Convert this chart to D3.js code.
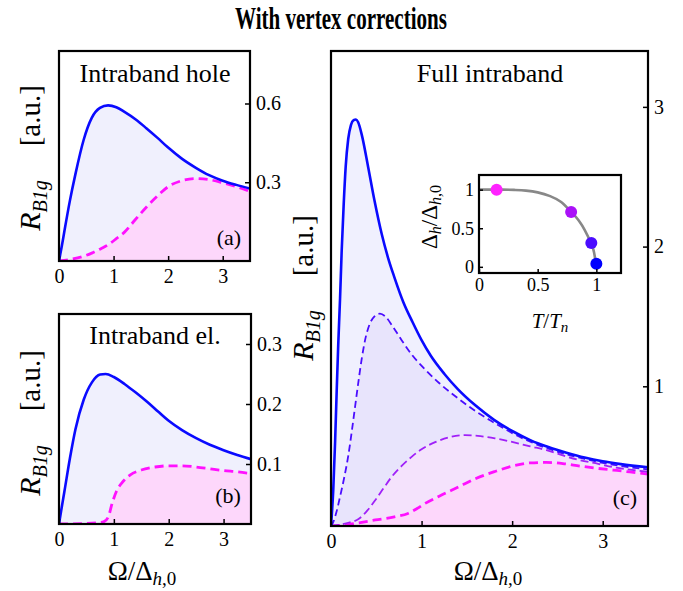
<!DOCTYPE html>
<html><head><meta charset="utf-8">
<script src="https://cdn.jsdelivr.net/npm/d3@7"></script>
<style>
body{margin:0;background:#fff}
svg{display:block}
text{font-family:"Liberation Serif","Times New Roman",serif;fill:#000}
</style>
</head><body>
<svg id="chart" width="683" height="591"></svg>
<script>
// ---------------- data ----------------
const omegaTicks = [0, 1, 2, 3];
const yTicksHole = [0.3, 0.6];
const yTicksEl = [0.1, 0.2, 0.3];
const yTicksFull = [1, 2, 3];
const insetTicks = [0, 0.5, 1];

// (a) Intraband hole: [Omega/Delta_h0, R_B1g]
const holeTn = [[0,0],[0.05,0.055],[0.1,0.115],[0.2,0.23],[0.3,0.33],[0.45,0.46],[0.6,0.545],[0.75,0.583],[0.9,0.593],[1.05,0.586],[1.2,0.568],[1.4,0.54],[1.6,0.506],[1.8,0.47],[2.0,0.432],[2.25,0.39],[2.5,0.356],[2.75,0.327],[3.0,0.306],[3.25,0.29],[3.5,0.276]];
const holeLowT = [[0,0],[0.2,0.006],[0.45,0.018],[0.6,0.03],[0.75,0.045],[0.9,0.062],[1.05,0.085],[1.2,0.11],[1.4,0.158],[1.6,0.205],[1.8,0.247],[2.0,0.283],[2.25,0.306],[2.5,0.314],[2.75,0.31],[3.0,0.298],[3.25,0.283],[3.5,0.265]];

// (b) Intraband el.
const elTn = [[0,0],[0.05,0.028],[0.1,0.055],[0.2,0.11],[0.3,0.158],[0.45,0.207],[0.6,0.236],[0.75,0.249],[0.85,0.25],[1.0,0.245],[1.2,0.233],[1.4,0.219],[1.6,0.204],[1.8,0.188],[2.0,0.172],[2.25,0.156],[2.5,0.143],[2.75,0.132],[3.0,0.123],[3.25,0.115],[3.5,0.108]];
const elLowT = [[0,0],[0.4,0.0005],[0.7,0.002],[0.82,0.004],[0.9,0.012],[0.97,0.035],[1.05,0.055],[1.15,0.069],[1.3,0.082],[1.5,0.09],[1.75,0.095],[2.0,0.097],[2.25,0.097],[2.5,0.095],[2.75,0.092],[3.0,0.089],[3.25,0.087],[3.5,0.084]];

// (c) Full intraband, four temperatures
const fullT100 = [[0,0],[0.025,0.26],[0.045,0.6],[0.063,0.97],[0.08,1.3],[0.1,1.63],[0.118,1.97],[0.14,2.3],[0.162,2.57],[0.19,2.77],[0.22,2.87],[0.25,2.905],[0.276,2.91],[0.3,2.89],[0.34,2.8],[0.41,2.57],[0.48,2.33],[0.56,2.09],[0.63,1.92],[0.7,1.78],[0.8,1.6],[0.9,1.46],[1.0,1.33],[1.1,1.22],[1.25,1.09],[1.4,0.98],[1.6,0.86],[1.8,0.76],[2.0,0.68],[2.2,0.615],[2.4,0.565],[2.6,0.525],[2.8,0.49],[3.0,0.463],[3.2,0.443],[3.5,0.42]];
const fullT096 = [[0,0],[0.02,0.02],[0.06,0.1],[0.1,0.21],[0.15,0.36],[0.19,0.5],[0.23,0.68],[0.265,0.85],[0.3,1.02],[0.34,1.2],[0.376,1.33],[0.43,1.45],[0.48,1.5],[0.54,1.52],[0.6,1.5],[0.68,1.43],[0.78,1.33],[0.9,1.22],[1.04,1.12],[1.2,1.02],[1.41,0.91],[1.6,0.82],[1.8,0.74],[2.0,0.665],[2.2,0.603],[2.4,0.553],[2.6,0.513],[2.8,0.48],[3.0,0.452],[3.2,0.43],[3.5,0.405]];
const fullT078 = [[0,0],[0.1,0.01],[0.2,0.025],[0.3,0.048],[0.4,0.11],[0.49,0.186],[0.58,0.27],[0.67,0.352],[0.78,0.43],[0.89,0.495],[1.0,0.55],[1.15,0.6],[1.3,0.635],[1.48,0.65],[1.65,0.643],[1.81,0.628],[2.01,0.6],[2.2,0.57],[2.38,0.543],[2.56,0.505],[2.75,0.471],[2.95,0.445],[3.12,0.42],[3.3,0.403],[3.5,0.388]];
const fullT015 = [[0,0],[0.2,0.012],[0.49,0.043],[0.7,0.065],[0.85,0.09],[0.95,0.125],[1.04,0.162],[1.2,0.215],[1.41,0.28],[1.6,0.34],[1.81,0.39],[2.01,0.43],[2.2,0.452],[2.38,0.455],[2.56,0.447],[2.75,0.429],[2.95,0.412],[3.12,0.40],[3.3,0.387],[3.5,0.371]];

// inset: gap vs temperature
const gapT     = [0, 0.1, 0.2, 0.3, 0.4, 0.5, 0.6, 0.7, 0.78, 0.85, 0.9, 0.95, 0.98, 1.0];
const gapDelta = [1, 1, 1, 0.997, 0.988, 0.965, 0.92, 0.84, 0.72, 0.6, 0.48, 0.32, 0.19, 0.0];
const dotT     = [0.15, 0.785, 0.957, 1.0];
const dotDelta = [1.0, 0.71, 0.31, 0.04];
const dotColor = ["#ff22ff", "#aa11f8", "#4a0cff", "#0000ff"];

// ---------------- drawing ----------------
const svg = d3.select("#chart");
const FONT = '"Liberation Serif","Times New Roman",serif';

svg.append("text").attr("x", 341).attr("y", 29).attr("text-anchor", "middle")
  .attr("font-size", 32).attr("font-weight", "bold")
  .attr("textLength", 212).attr("lengthAdjust", "spacingAndGlyphs")
  .text("With vertex corrections");

function panel(box, yMax, yTicks, layers, title, tag, tagPos) {
  const x = d3.scaleLinear().domain([0, 3.5]).range([box.x0, box.x1]);
  const y = d3.scaleLinear().domain([0, yMax]).range([box.y1, box.y0]);
  const id = "clip" + tag.replace(/[()]/g, "");
  svg.append("clipPath").attr("id", id).append("rect")
    .attr("x", box.x0).attr("y", box.y0).attr("width", box.x1 - box.x0).attr("height", box.y1 - box.y0);
  const g = svg.append("g").attr("clip-path", `url(#${id})`);
  const area = d3.area().x(d => x(d[0])).y0(y(0)).y1(d => y(d[1])).curve(d3.curveMonotoneX);
  const line = d3.line().x(d => x(d[0])).y(d => y(d[1])).curve(d3.curveMonotoneX);
  layers.forEach(L => g.append("path").datum(L.data).attr("d", area).attr("fill", L.fill));
  layers.slice().reverse().forEach(L => g.append("path").datum(L.data).attr("d", line)
    .attr("fill", "none").attr("stroke", L.stroke).attr("stroke-width", L.w)
    .attr("stroke-dasharray", L.dash || null));

  const ya = svg.append("g").attr("transform", `translate(${box.x1},0)`)
    .call(d3.axisRight(y).tickValues(yTicks).tickSize(-5).tickPadding(6).tickFormat(d => String(d)));
  const xa = svg.append("g").attr("transform", `translate(0,${box.y1})`)
    .call(d3.axisBottom(x).tickValues(omegaTicks).tickSize(-5).tickPadding(8).tickFormat(d => String(d)));
  [ya, xa].forEach(a => {
    a.attr("font-family", FONT).attr("font-size", 20);
    a.select(".domain").remove();
    a.selectAll(".tick line").attr("stroke", "#000").attr("stroke-width", 1.5);
  });
  svg.append("rect").attr("x", box.x0).attr("y", box.y0).attr("width", box.x1 - box.x0)
    .attr("height", box.y1 - box.y0).attr("fill", "none").attr("stroke", "#000").attr("stroke-width", 2.2);
  svg.append("text").attr("x", title.x).attr("y", title.y).attr("text-anchor", "middle")
    .attr("font-size", 26).text(title.t);
  svg.append("text").attr("x", tagPos.x).attr("y", tagPos.y).attr("text-anchor", "middle")
    .attr("font-size", 22).text(tag);
}

const boxA = {x0: 59, x1: 250, y0: 51, y1: 261};
const boxB = {x0: 59, x1: 251, y0: 314, y1: 524};
const boxC = {x0: 331, x1: 648, y0: 51, y1: 526};

const LAV = "#f0f0fd", PINK = "#fdd7fb";
panel(boxA, 0.8, yTicksHole, [
  {data: holeTn, fill: LAV, stroke: "#0a0aff", w: 2.6},
  {data: holeLowT, fill: PINK, stroke: "#ff11ff", w: 2.8, dash: "9,5"}
], {x: 155, y: 82, t: "Intraband hole"}, "(a)", {x: 229, y: 245});

panel(boxB, 0.35, yTicksEl, [
  {data: elTn, fill: LAV, stroke: "#0a0aff", w: 2.6},
  {data: elLowT, fill: PINK, stroke: "#ff11ff", w: 2.8, dash: "9,5"}
], {x: 155, y: 344, t: "Intraband el."}, "(b)", {x: 228, y: 503});

panel(boxC, 3.4, yTicksFull, [
  {data: fullT100, fill: "#f0f0fe", stroke: "#0a0aff", w: 2.6},
  {data: fullT096, fill: "#e8e4fc", stroke: "#4a0cff", w: 1.8, dash: "7,4"},
  {data: fullT078, fill: "#f4e2fc", stroke: "#a020f8", w: 1.8, dash: "8,4"},
  {data: fullT015, fill: PINK, stroke: "#ff11ff", w: 2.8, dash: "9,5"}
], {x: 490, y: 82, t: "Full intraband"}, "(c)", {x: 625, y: 505});

// axis titles
function yTitle(cx, cy) {
  const t = svg.append("text").attr("transform", `translate(${cx},${cy}) rotate(-90)`)
    .attr("text-anchor", "middle").attr("font-size", 30);
  t.append("tspan").attr("font-style", "italic").text("R");
  t.append("tspan").attr("font-style", "italic").attr("font-size", 20).attr("dy", 7).text("B1g");
  t.append("tspan").attr("font-size", 29).attr("dy", -7).attr("dx", 34).text("[a.u.]");
}
yTitle(40, 158);
yTitle(40, 423);
yTitle(313, 288);

function xTitle(cx, by) {
  const t = svg.append("text").attr("x", cx).attr("y", by).attr("text-anchor", "middle").attr("font-size", 27);
  t.append("tspan").text("Ω/Δ");
  const s = t.append("tspan").attr("font-size", 19).attr("dy", 5);
  s.append("tspan").attr("font-style", "italic").text("h");
  s.append("tspan").text(",0");
}
xTitle(142, 580);
xTitle(488, 580);

// ---------------- inset ----------------
const ib = {x0: 479, x1: 621, y0: 175, y1: 273};
const ix = d3.scaleLinear().domain([0, 1.21]).range([ib.x0, ib.x1]);
const iy = d3.scaleLinear().domain([-0.08, 1.19]).range([ib.y1, ib.y0]);
svg.append("rect").attr("x", ib.x0).attr("y", ib.y0).attr("width", ib.x1 - ib.x0)
  .attr("height", ib.y1 - ib.y0).attr("fill", "#fff");
svg.append("path").datum(d3.zip(gapT, gapDelta))
  .attr("d", d3.line().x(d => ix(d[0])).y(d => iy(d[1])).curve(d3.curveMonotoneX))
  .attr("fill", "none").attr("stroke", "#888").attr("stroke-width", 2.6);
svg.selectAll(".dot").data(d3.zip(dotT, dotDelta, dotColor)).enter().append("circle")
  .attr("cx", d => ix(d[0])).attr("cy", d => iy(d[1])).attr("r", 6).attr("fill", d => d[2]);
const ixa = svg.append("g").attr("transform", `translate(0,${ib.y1})`)
  .call(d3.axisBottom(ix).tickValues(insetTicks).tickSize(-4).tickPadding(5).tickFormat(d => String(d)));
const iya = svg.append("g").attr("transform", `translate(${ib.x0},0)`)
  .call(d3.axisLeft(iy).tickValues(insetTicks).tickSize(-4).tickPadding(5).tickFormat(d => String(d)));
[ixa, iya].forEach(a => {
  a.attr("font-family", FONT).attr("font-size", 18);
  a.select(".domain").remove();
  a.selectAll(".tick line").attr("stroke", "#000").attr("stroke-width", 1.5);
});
svg.append("rect").attr("x", ib.x0).attr("y", ib.y0).attr("width", ib.x1 - ib.x0)
  .attr("height", ib.y1 - ib.y0).attr("fill", "none").attr("stroke", "#000").attr("stroke-width", 2.2);
{
  const t = svg.append("text").attr("x", 550).attr("y", 328).attr("text-anchor", "middle").attr("font-size", 21);
  t.append("tspan").attr("font-style", "italic").text("T");
  t.append("tspan").text("/");
  t.append("tspan").attr("font-style", "italic").text("T");
  t.append("tspan").attr("font-style", "italic").attr("font-size", 15).attr("dy", 4).text("n");
}
{
  const t = svg.append("text").attr("transform", "translate(437,217) rotate(-90)")
    .attr("text-anchor", "middle").attr("font-size", 23);
  t.append("tspan").text("Δ");
  t.append("tspan").attr("font-style", "italic").attr("font-size", 16).attr("dy", 4).text("h");
  t.append("tspan").attr("dy", -4).text("/Δ");
  const s = t.append("tspan").attr("font-size", 16).attr("dy", 4);
  s.append("tspan").attr("font-style", "italic").text("h");
  s.append("tspan").text(",0");
}
</script>
</body></html>
